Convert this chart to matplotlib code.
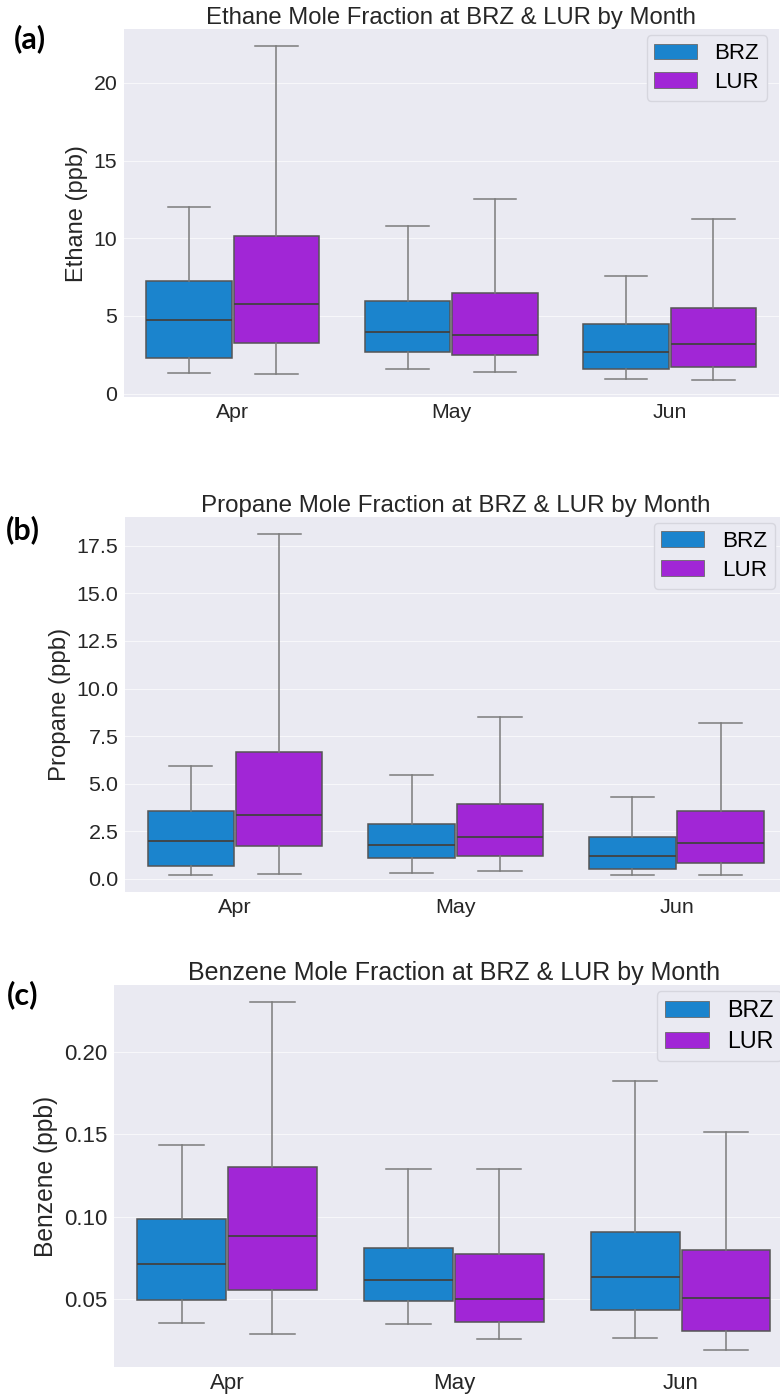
import matplotlib
matplotlib.use("Agg")
import matplotlib.pyplot as plt
from matplotlib.patches import Patch

plt.rcParams['font.family'] = ['Liberation Sans', 'DejaVu Sans']

W, H = 780, 1397
fig = plt.figure(figsize=(W / 100, H / 100), dpi=100)

months = ["Apr", "May", "Jun"]
sites = ["BRZ", "LUR"]
site_colors = ["#1b84cd", "#a126d6"]

# per month: [lower whisker, Q1, median, Q3, upper whisker]
ethane_brz = [[1.33, 2.32, 4.74, 7.25, 12.04],
              [1.59, 2.70, 3.99, 5.97, 10.77],
              [0.97, 1.57, 2.70, 4.46, 7.60]]
ethane_lur = [[1.24, 3.26, 5.79, 10.15, 22.38],
              [1.39, 2.47, 3.78, 6.46, 12.53],
              [0.86, 1.70, 3.22, 5.52, 11.24]]

propane_brz = [[0.21, 0.67, 1.97, 3.57, 5.93],
               [0.32, 1.09, 1.76, 2.90, 5.45],
               [0.21, 0.53, 1.20, 2.20, 4.31]]
propane_lur = [[0.26, 1.72, 3.38, 6.65, 18.11],
               [0.44, 1.23, 2.22, 3.96, 8.51],
               [0.21, 0.84, 1.90, 3.57, 8.20]]

benzene_brz = [[0.0350, 0.0490, 0.0712, 0.0983, 0.1434],
               [0.0346, 0.0488, 0.0615, 0.0809, 0.1292],
               [0.0259, 0.0433, 0.0633, 0.0904, 0.1824]]
benzene_lur = [[0.0286, 0.0555, 0.0882, 0.1302, 0.2303],
               [0.0253, 0.0358, 0.0496, 0.0771, 0.1288],
               [0.0191, 0.0306, 0.0504, 0.0797, 0.1513]]

titles = ["Ethane Mole Fraction at BRZ & LUR by Month",
          "Propane Mole Fraction at BRZ & LUR by Month",
          "Benzene Mole Fraction at BRZ & LUR by Month"]
ylabels = ["Ethane (ppb)", "Propane (ppb)", "Benzene (ppb)"]
panel_tags = ["(a)", "(b)", "(c)"]
yticks_list = [[0, 5, 10, 15, 20],
               [0.0, 2.5, 5.0, 7.5, 10.0, 12.5, 15.0, 17.5],
               [0.05, 0.10, 0.15, 0.20]]
yfmt = ["{:.0f}", "{:.1f}", "{:.2f}"]

series = [(ethane_brz, ethane_lur), (propane_brz, propane_lur), (benzene_brz, benzene_lur)]

# layout in pixels: left, right, top, bottom
rects = [(123.5, 779, 29.3, 397), (124.6, 787, 517, 892), (113.6, 794, 985, 1367)]
scales = [1.0, 1.01, 1.045]
tag_pos = [(14, 39), (6, 530), (7, 995)]

text_col = "#262626"
whisk_col = "#7c7c7c"
edge_col = "#555555"
bg_col = "#EAEAF2"

for k in range(3):
    l, r, t, b = rects[k]
    s = scales[k]
    ax = fig.add_axes([l / W, 1 - b / H, (r - l) / W, (b - t) / H])
    ax.set_facecolor(bg_col)
    for sp in ax.spines.values():
        sp.set_visible(False)
    ax.set_axisbelow(True)
    ax.yaxis.grid(True, color="#f7f7fa", linewidth=0.8)
    ax.xaxis.grid(False)

    stats, positions, colors = [], [], []
    for i, m in enumerate(months):
        for j, data in enumerate(series[k]):
            lo, q1, med, q3, hi = data[i]
            stats.append(dict(whislo=lo, q1=q1, med=med, q3=q3, whishi=hi, fliers=[]))
            positions.append(i + (j - 0.5) * 0.4)
            colors.append(site_colors[j])
    bp = ax.bxp(stats, positions=positions, widths=0.392, patch_artist=True,
                showfliers=False, manage_ticks=False,
                boxprops=dict(edgecolor=edge_col, linewidth=1.1),
                whiskerprops=dict(color=whisk_col, linewidth=1.1),
                capprops=dict(color=whisk_col, linewidth=1.1),
                medianprops=dict(color="#424242", linewidth=1.3))
    for patch, c in zip(bp["boxes"], colors):
        patch.set_facecolor(c)

    ax.margins(y=0.05)
    ax.set_xlim(-0.5, 2.5)
    ax.set_xticks(range(len(months)))
    ax.set_xticklabels(months)
    yt = yticks_list[k]
    ax.set_yticks(yt)
    ax.set_yticklabels([yfmt[k].format(v) for v in yt])
    ax.tick_params(axis="both", length=0, labelsize=15.3 * s, labelcolor=text_col, pad=4.5)
    ax.set_ylabel(ylabels[k], fontsize=17 * s, color=text_col, labelpad=4)
    ax.set_title(titles[k], fontsize=17.2 * s, color=text_col, pad=3.5)

    axw, axh = r - l, b - t
    handles = [Patch(facecolor=site_colors[j], edgecolor="#6a6a6a", linewidth=0.6, label=sites[j])
               for j in range(2)]
    leg = ax.legend(handles=handles, loc="upper right",
                    bbox_to_anchor=(1 - 12 / axw, 1 - 6 / axh), borderaxespad=0,
                    fontsize=16 * s, labelspacing=0.35, handlelength=1.9,
                    handletextpad=0.8, borderpad=0.35,
                    facecolor=bg_col, edgecolor="#d6d6de", framealpha=1.0)

    tx, ty = tag_pos[k]
    fig.text(tx / W, 1 - ty / H, panel_tags[k], fontsize=22, fontweight="bold",
             family=["Lato", "DejaVu Sans"], ha="left", va="center", color="black")

fig.savefig("out.png", dpi=100, facecolor="white")
